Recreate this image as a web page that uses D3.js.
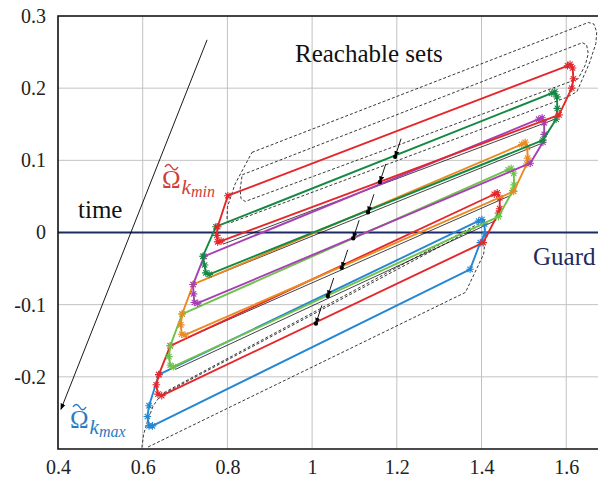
<!DOCTYPE html>
<html>
<head>
<meta charset="utf-8">
<script src="https://cdn.jsdelivr.net/npm/d3@7"></script>
<style>
  body { margin: 0; background: #fff; }
  svg { display: block; }
  text { font-family: "Liberation Serif", "Times New Roman", serif; }
</style>
</head>
<body>
<div id="chart"></div>
<script>
// ---- data ----
const xTicks = [0.4, 0.6, 0.8, 1.0, 1.2, 1.4, 1.6];
const xTickLabels = ["0.4", "0.6", "0.8", "1", "1.2", "1.4", "1.6"];
const yTicks = [-0.2, -0.1, 0, 0.1, 0.2, 0.3];
const yTickLabels = ["-0.2", "-0.1", "0", "0.1", "0.2", "0.3"];

// polygons, one per time step (UL -> UR -> right side -> LR -> LL hook -> left side)
const set1 = [[0.801,0.051],[1.603,0.231],[1.609,0.233],[1.615,0.228],[1.617,0.213],[1.613,0.200],[1.583,0.163],
              [0.785,-0.012],[0.777,-0.013],[0.775,-0.004],[0.777,0.008],[0.801,0.051]];
const set2 = [[0.773,0.008],[1.566,0.193],[1.573,0.195],[1.578,0.188],[1.579,0.172],[1.576,0.157],[1.545,0.128],
              [0.757,-0.058],[0.749,-0.056],[0.746,-0.045],[0.742,-0.033],[0.773,0.008]];
const set3 = [[0.745,-0.033],[1.535,0.157],[1.543,0.159],[1.548,0.152],[1.548,0.136],[1.545,0.125],[1.515,0.096],
              [0.730,-0.098],[0.722,-0.097],[0.720,-0.085],[0.719,-0.072],[0.745,-0.033]];
const set4 = [[0.719,-0.072],[1.495,0.122],[1.503,0.125],[1.508,0.118],[1.509,0.103],[1.507,0.095],[1.476,0.057],
              [0.700,-0.142],[0.692,-0.141],[0.690,-0.128],[0.693,-0.113],[0.719,-0.072]];
const set5 = [[0.693,-0.113],[1.463,0.087],[1.470,0.089],[1.476,0.082],[1.477,0.066],[1.474,0.058],[1.440,0.022],
              [0.672,-0.186],[0.665,-0.184],[0.662,-0.172],[0.665,-0.157],[0.693,-0.113]];
const set6 = [[0.665,-0.157],[1.430,0.053],[1.437,0.055],[1.443,0.048],[1.443,0.033],[1.440,0.027],[1.404,-0.014],
              [0.645,-0.226],[0.636,-0.224],[0.632,-0.211],[0.638,-0.197],[0.665,-0.157]];
const set7 = [[0.638,-0.197],[1.393,0.016],[1.401,0.018],[1.407,0.012],[1.408,-0.002],[1.397,-0.014],[1.373,-0.051],
              [0.623,-0.268],[0.615,-0.268],[0.611,-0.255],[0.615,-0.240],[0.638,-0.197]];

// thin black edges running beside some of the lower edges
const blackEdges = [
  [[0.790,-0.016],[1.578,0.158]],
  [[0.760,-0.062],[1.540,0.123]],
  [[0.705,-0.146],[1.471,0.052]],
  [[0.676,-0.190],[1.435,0.017]]
];

// dashed outlines of the reachable sets
const reachOuter = [[0.858,0.111],[1.652,0.291],[1.665,0.289],[1.672,0.278],[1.670,0.262],[1.655,0.235],[1.625,0.195],
                    [1.600,0.187],[0.805,0.013],[0.799,0.016],[0.800,0.035],[0.806,0.046],[0.818,0.067],[0.858,0.111]];
const reachInner = [[0.835,0.080],[1.638,0.263],[1.648,0.260],[1.652,0.248],[1.645,0.232],[1.628,0.213],
                    [0.842,0.043],[0.832,0.047],[0.830,0.060],[0.835,0.080]];
const reachLower = [[0.598,-0.298],[0.602,-0.280],[0.612,-0.260],[0.625,-0.240],[0.642,-0.226],[1.390,0.008],
                    [1.405,0.012],[1.410,0.000],[1.405,-0.030],[1.362,-0.083],[0.610,-0.298]];
const reachLowerInner = [[0.650,-0.222],[1.392,0.012],[1.400,0.014]];

// small arrows of the set centres (tail, tip)
const arrowTails = [[1.210,0.130],[1.174,0.095],[1.146,0.053],[1.111,0.017],[1.084,-0.024],[1.051,-0.063],[1.023,-0.101]];
const arrowTips  = [[1.196,0.105],[1.160,0.070],[1.132,0.028],[1.097,-0.008],[1.070,-0.049],[1.037,-0.088],[1.009,-0.126]];

// big "time" arrow
const timeArrow = [[0.752,0.267],[0.407,-0.245]];

// ---- styles ----
const sets = [set1, set2, set3, set4, set5, set6, set7];
const setColors = ["#e5262b", "#138a43", "#a540b3", "#ea8a20", "#6fc24b", "#e5262b", "#2487d3"];
const serif = '"Liberation Serif", "Times New Roman", serif';

const W = 598, H = 480;
const x = d3.scaleLinear().domain([0.4, 1.675]).range([58, 598]);
const y = d3.scaleLinear().domain([-0.3, 0.3]).range([449, 16]);

const svg = d3.select("#chart").append("svg").attr("width", W).attr("height", H);

svg.append("defs").append("marker")
  .attr("id", "head").attr("viewBox", "0 0 10 10")
  .attr("refX", 9).attr("refY", 5)
  .attr("markerWidth", 7).attr("markerHeight", 7)
  .attr("orient", "auto")
  .append("path").attr("d", "M0,1 L10,5 L0,9 Z").attr("fill", "#000");

svg.append("defs").append("clipPath").attr("id", "clip")
  .append("rect").attr("x", 58).attr("y", 16).attr("width", 540).attr("height", 433);

// grid
const grid = svg.append("g").attr("stroke", "#c2c2c2").attr("stroke-width", 1);
grid.selectAll("line.vx").data(xTicks.slice(1)).enter().append("line")
  .attr("x1", d => x(d)).attr("x2", d => x(d)).attr("y1", y(0.3)).attr("y2", y(-0.3));
grid.selectAll("line.hy").data(yTicks).enter().append("line")
  .attr("x1", x(0.4)).attr("x2", 598).attr("y1", d => y(d)).attr("y2", d => y(d));

// axes labels
const xAxis = svg.append("g").attr("transform", "translate(0," + y(-0.3) + ")")
  .call(d3.axisBottom(x).tickValues(xTicks).tickSize(0).tickPadding(11)
    .tickFormat((d, i) => xTickLabels[i]));
const yAxis = svg.append("g").attr("transform", "translate(" + x(0.4) + ",0)")
  .call(d3.axisLeft(y).tickValues(yTicks).tickSize(0).tickPadding(12)
    .tickFormat((d, i) => yTickLabels[i]));
[xAxis, yAxis].forEach(a => {
  a.select(".domain").remove();
  a.attr("font-family", null).attr("font-size", null);
  a.selectAll("text").style("font-family", serif).style("font-size", "20px").attr("fill", "#222");
});

const plot = svg.append("g").attr("clip-path", "url(#clip)");
const line = d3.line().x(d => x(d[0])).y(d => y(d[1]));

// guard
plot.append("line")
  .attr("x1", x(0.4)).attr("x2", 598).attr("y1", y(0)).attr("y2", y(0))
  .attr("stroke", "#1c2a66").attr("stroke-width", 2.2);

// dashed reachable sets
[reachOuter, reachInner, reachLower, reachLowerInner].forEach(p => {
  plot.append("path").attr("d", line(p))
    .attr("fill", "none").attr("stroke", "#222").attr("stroke-width", 0.9)
    .attr("stroke-dasharray", "3,2");
});

blackEdges.forEach(p => {
  plot.append("path").attr("d", line(p))
    .attr("fill", "none").attr("stroke", "#111").attr("stroke-width", 0.8);
});

// asterisk marker
const ast = r => {
  const a = r * 0.707;
  return `M${-r},0L${r},0M0,${-r}L0,${r}M${-a},${-a}L${a},${a}M${-a},${a}L${a},${-a}`;
};

// set polygons, drawn last-to-first so the earliest ones sit on top
sets.slice().reverse().forEach((s, ri) => {
  const i = sets.length - 1 - ri;
  const g = plot.append("g");
  g.append("path").attr("d", line(s))
    .attr("fill", "none").attr("stroke", setColors[i]).attr("stroke-width", 1.9)
    .attr("stroke-linejoin", "round");
  g.selectAll("path.m").data(s.slice(0, -1)).enter().append("path")
    .attr("transform", d => `translate(${x(d[0])},${y(d[1])})`)
    .attr("d", ast(3.8))
    .attr("stroke", setColors[i]).attr("stroke-width", 1.1);
});

// centre arrows
arrowTips.forEach((tip, i) => {
  const tail = arrowTails[i];
  plot.append("line")
    .attr("x1", x(tail[0])).attr("y1", y(tail[1]))
    .attr("x2", x(tip[0])).attr("y2", y(tip[1]))
    .attr("stroke", "#000").attr("stroke-width", 0.9)
    .attr("marker-end", "url(#head)");
  plot.append("circle").attr("cx", x(tip[0])).attr("cy", y(tip[1])).attr("r", 2.2).attr("fill", "#000");
});

// time arrow
plot.append("line")
  .attr("x1", x(timeArrow[0][0])).attr("y1", y(timeArrow[0][1]))
  .attr("x2", x(timeArrow[1][0])).attr("y2", y(timeArrow[1][1]))
  .attr("stroke", "#000").attr("stroke-width", 0.9)
  .attr("marker-end", "url(#head)");

// axis lines (left, bottom, top)
svg.append("path")
  .attr("d", `M598,${y(0.3)}H${x(0.4)}V${y(-0.3)}H598`)
  .attr("fill", "none").attr("stroke", "#111").attr("stroke-width", 1.6);

// annotations
svg.append("text").attr("x", 295).attr("y", 62).style("font-size", "25px").attr("fill", "#111").text("Reachable sets");
svg.append("text").attr("x", 78).attr("y", 218).style("font-size", "25px").attr("fill", "#111").text("time");
svg.append("text").attr("x", 533).attr("y", 265).style("font-size", "25px").attr("fill", "#1f2a60").text("Guard");

function omega(px, py, sub, color) {
  const t = svg.append("text").attr("x", px).attr("y", py).attr("fill", color);
  t.append("tspan").style("font-size", "25px").text("Ω");
  t.append("tspan").style("font-size", "21px").style("font-style", "italic").attr("dy", 6).attr("dx", 1).text("k");
  t.append("tspan").style("font-size", "16px").style("font-style", "italic").attr("dy", 3).text(sub);
  // tilde accent over the Omega
  svg.append("path")
    .attr("d", `M${px + 3},${py - 21} c2,-3.5 4.5,-3.5 6.5,0 s4.5,3.5 6.5,0`)
    .attr("fill", "none").attr("stroke", color).attr("stroke-width", 1.5);
}
omega(162, 188, "min", "#cf3f3a");
omega(70, 428, "max", "#2a7cc2");
</script>
</body>
</html>
